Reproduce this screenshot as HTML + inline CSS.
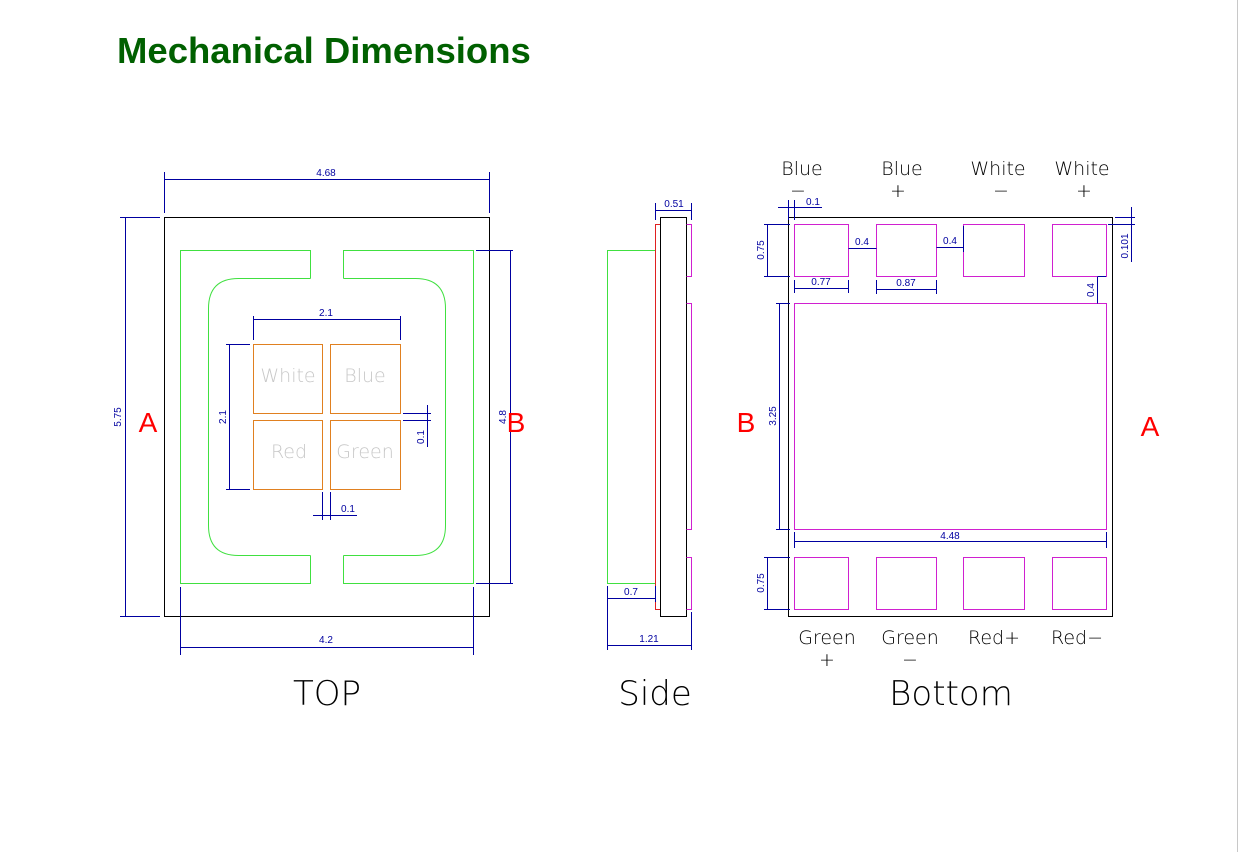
<!DOCTYPE html>
<html><head><meta charset="utf-8"><style>
html,body{margin:0;padding:0;background:#fff;width:1239px;height:852px;overflow:hidden}
svg{display:block}
.d{stroke:#0000a0;stroke-width:1;fill:none}
.t{font-family:"Liberation Sans",sans-serif;font-size:10px;fill:#0000a0}
.p{stroke:#d020d0;stroke-width:1;fill:none}
.l{font-family:"DejaVu Sans","Liberation Sans",sans-serif;font-size:19px;fill:#000;font-weight:200}
.big{font-family:"DejaVu Sans","Liberation Sans",sans-serif;font-size:34px;fill:#000;font-weight:200}
.ab{font-family:"Liberation Sans",sans-serif;font-size:28px;fill:#ff0000}
.c{stroke:#e08020;fill:none}
.ct{font-family:"DejaVu Sans",sans-serif;font-size:19px;fill:#c8c8c8;font-weight:200}
</style></head><body>
<svg width="1239" height="852" viewBox="0 0 1239 852">
<line x1="1237.5" y1="0" x2="1237.5" y2="852" stroke="#c8c8c8"/>
<text x="117" y="63" font-family="Liberation Sans,sans-serif" font-weight="bold" font-size="36.5" fill="#006000">Mechanical Dimensions</text>

<!-- TOP -->
<rect x="164.5" y="217.5" width="325" height="399" fill="none" stroke="#000"/>
<path d="M310.5 278.5V250.5H180.5V583.5H310.5V555.5M343.5 278.5V250.5H473.5V583.5H343.5V555.5" fill="none" stroke="#40e040"/>
<path d="M310.5 278.5H238.5Q208.5 278.5 208.5 308.5V525.5Q208.5 555.5 238.5 555.5H310.5M343.5 555.5H415.5Q445.5 555.5 445.5 525.5V308.5Q445.5 278.5 415.5 278.5H343.5" fill="none" stroke="#40e040"/>
<rect class="c" x="253.5" y="344.5" width="69" height="69"/>
<rect class="c" x="330.5" y="344.5" width="70" height="69"/>
<rect class="c" x="253.5" y="420.5" width="69" height="69"/>
<rect class="c" x="330.5" y="420.5" width="70" height="69"/>
<text class="ct" x="288" y="382" text-anchor="middle">White</text>
<text class="ct" x="365" y="382" text-anchor="middle">Blue</text>
<text class="ct" x="289" y="458" text-anchor="middle">Red</text>
<text class="ct" x="365" y="458" text-anchor="middle">Green</text>
<!-- dims top -->
<path class="d" d="M164.5 172V213M489.5 172V213M164.5 179.5H489.5"/><text class="t" x="326" y="176" text-anchor="middle">4.68</text>
<path class="d" d="M120 217.5H160M120 616.5H160M125.5 217.5V616.5"/><text class="t" transform="translate(121,417) rotate(-90)" text-anchor="middle">5.75</text>
<path class="d" d="M476 250.5H513M476 583.5H513M510.5 250.5V583.5"/><text class="t" transform="translate(506,417) rotate(-90)" text-anchor="middle">4.8</text>
<path class="d" d="M180.5 587V655M473.5 587V655M180.5 647.5H473.5"/><text class="t" x="326" y="643" text-anchor="middle">4.2</text>
<path class="d" d="M253.5 316V340M400.5 316V340M253.5 319.5H400.5"/><text class="t" x="326" y="316" text-anchor="middle">2.1</text>
<path class="d" d="M226 344.5H250M226 489.5H250M229.5 344.5V489.5"/><text class="t" transform="translate(226,417) rotate(-90)" text-anchor="middle">2.1</text>
<path class="d" d="M403 413.5H431M403 420.5H431M427.5 405V447"/><text class="t" transform="translate(424,437) rotate(-90)" text-anchor="middle">0.1</text>
<path class="d" d="M322.5 492V520M330.5 492V520M313 515.5H357"/><text class="t" x="348" y="512" text-anchor="middle">0.1</text>
<text class="ab" x="148" y="432" text-anchor="middle">A</text>
<text class="ab" x="516" y="432" text-anchor="middle">B</text>
<text class="big" x="327" y="705" text-anchor="middle">TOP</text>

<!-- SIDE -->
<rect x="607.5" y="250.5" width="48" height="333" fill="none" stroke="#40e040"/>
<rect x="655.5" y="224.5" width="5" height="385" fill="none" stroke="#e02020"/>
<rect x="660.5" y="217.5" width="26" height="399" fill="none" stroke="#000"/>
<path class="p" d="M686.5 224.5H691.5V276.5H686.5M686.5 303.5H691.5V529.5H686.5M686.5 557.5H691.5V609.5H686.5"/>
<path class="d" d="M655.5 203V220M691.5 203V220M655.5 210.5H691.5"/><text class="t" x="674" y="207" text-anchor="middle">0.51</text>
<path class="d" d="M607.5 586V602M655.5 586V602M607.5 598.5H655.5"/><text class="t" x="631" y="595" text-anchor="middle">0.7</text>
<path class="d" d="M607.5 586V650M691.5 612V650M607.5 645.5H691.5"/><text class="t" x="649" y="642" text-anchor="middle">1.21</text>
<text class="big" x="655" y="705" text-anchor="middle">Side</text>

<!-- BOTTOM -->
<rect x="788.5" y="217.5" width="324" height="399" fill="none" stroke="#000"/>
<rect class="p" x="794.5" y="224.5" width="54" height="52"/>
<rect class="p" x="876.5" y="224.5" width="60" height="52"/>
<rect class="p" x="963.5" y="224.5" width="61" height="52"/>
<rect class="p" x="1052.5" y="224.5" width="54" height="52"/>
<rect class="p" x="794.5" y="303.5" width="312" height="226"/>
<rect class="p" x="794.5" y="557.5" width="54" height="52"/>
<rect class="p" x="876.5" y="557.5" width="60" height="52"/>
<rect class="p" x="963.5" y="557.5" width="61" height="52"/>
<rect class="p" x="1052.5" y="557.5" width="54" height="52"/>
<path class="d" d="M764 224.5H790M764 276.5H790M767.5 224.5V276.5"/><text class="t" transform="translate(764,250) rotate(-90)" text-anchor="middle">0.75</text>
<path class="d" d="M764 557.5H790M764 609.5H790M767.5 557.5V609.5"/><text class="t" transform="translate(764,583) rotate(-90)" text-anchor="middle">0.75</text>
<path class="d" d="M776 303.5H790M776 529.5H790M779.5 303.5V529.5"/><text class="t" transform="translate(776,416) rotate(-90)" text-anchor="middle">3.25</text>
<path class="d" d="M794.5 280V293M848.5 280V293M794.5 288.5H848.5"/><text class="t" x="821" y="285" text-anchor="middle">0.77</text>
<path class="d" d="M876.5 280V294M936.5 280V294M876.5 289.5H936.5"/><text class="t" x="906" y="286" text-anchor="middle">0.87</text>
<path class="d" d="M848.5 248.5H876.5"/><text class="t" x="862" y="245" text-anchor="middle">0.4</text>
<path class="d" d="M936.5 247.5H963.5M963.5 226V252"/><text class="t" x="950" y="244" text-anchor="middle">0.4</text>
<path class="d" d="M778 207.5H822M788.5 200V220M794.5 200V220"/><text class="t" x="813" y="205" text-anchor="middle">0.1</text>
<path class="d" d="M1108 224.5H1135M1131.5 207V262M1115 217.5H1135"/><text class="t" transform="translate(1128,246) rotate(-90)" text-anchor="middle">0.101</text>
<path class="d" d="M1097.5 276.5V303.5M1098 276.5H1106"/><text class="t" transform="translate(1094,290) rotate(-90)" text-anchor="middle">0.4</text>
<path class="d" d="M794.5 532V548M1106.5 532V548M794.5 541.5H1106.5"/><text class="t" x="950" y="539" text-anchor="middle">4.48</text>
<text class="l" x="802" y="175" text-anchor="middle">Blue</text>
<text class="l" x="798" y="197" text-anchor="middle">−</text>
<text class="l" x="902" y="175" text-anchor="middle">Blue</text>
<text class="l" x="898" y="197" text-anchor="middle">+</text>
<text class="l" x="998" y="175" text-anchor="middle">White</text>
<text class="l" x="1001" y="197" text-anchor="middle">−</text>
<text class="l" x="1082" y="175" text-anchor="middle">White</text>
<text class="l" x="1084" y="197" text-anchor="middle">+</text>
<text class="l" x="827" y="644" text-anchor="middle">Green</text>
<text class="l" x="827" y="666" text-anchor="middle">+</text>
<text class="l" x="910" y="644" text-anchor="middle">Green</text>
<text class="l" x="910" y="666" text-anchor="middle">−</text>
<text class="l" x="994" y="644" text-anchor="middle">Red+</text>
<text class="l" x="1077" y="644" text-anchor="middle">Red−</text>
<text class="ab" x="746" y="432" text-anchor="middle">B</text>
<text class="ab" x="1150" y="436" text-anchor="middle">A</text>
<text class="big" x="951" y="705" text-anchor="middle">Bottom</text>
</svg>
</body></html>
